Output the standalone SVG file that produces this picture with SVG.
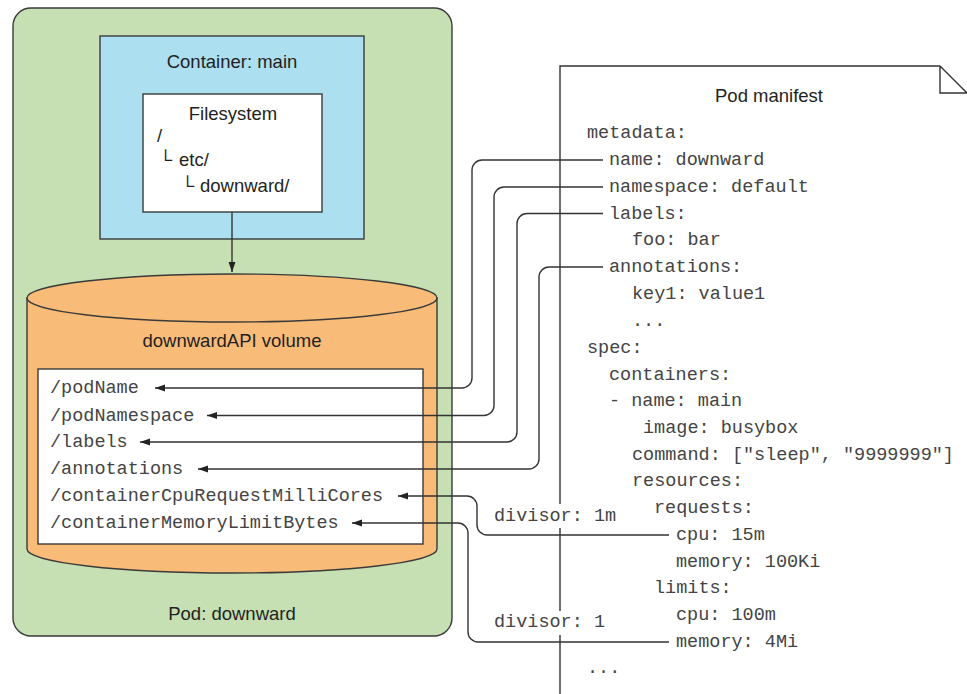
<svg xmlns="http://www.w3.org/2000/svg" width="967" height="694" viewBox="0 0 967 694">
<style>
.box{stroke:#3a3a3a;stroke-width:1.4}
.sans{font-family:"Liberation Sans",Arial,"DejaVu Sans",sans-serif;font-size:18.5px;fill:#231f20}
.mono{font-family:"Liberation Mono","Courier New",monospace;font-size:18.5px;fill:#444}
.conn{fill:none;stroke:#333;stroke-width:1.4}
</style>
<defs>
<marker id="ah" markerUnits="userSpaceOnUse" markerWidth="11" markerHeight="8" refX="10" refY="3.5" orient="auto">
<path d="M0,0 L10,3.5 L0,7 Z" fill="#222"/>
</marker>
</defs>
<rect width="967" height="694" fill="#fff"/>

<g id="pod">
<rect class="box" x="13" y="8" width="439" height="628" rx="18" fill="#c6e0b4"/>
<text class="sans" x="232" y="620" text-anchor="middle">Pod: downward</text>
</g>

<g id="container">
<rect class="box" x="100" y="36" width="264" height="203" fill="#acdff0"/>
<text class="sans" x="232" y="68" text-anchor="middle">Container: main</text>
</g>

<g id="filesystem">
<rect class="box" x="143" y="94" width="179" height="118" fill="#fff"/>
<text class="sans" x="233" y="120" text-anchor="middle">Filesystem</text>
<text class="sans" x="157" y="142">/</text>
<text class="sans" x="159" y="166">└</text>
<text class="sans" x="179" y="166">etc/</text>
<text class="sans" x="181" y="192">└</text>
<text class="sans" x="200" y="192">downward/</text>
</g>

<g id="volume">
<path class="box" d="M27,298 V549 A205,24 0 0 0 437,549 V298 Z" fill="#f9bb78"/>
<ellipse class="box" cx="232" cy="298" rx="205" ry="24" fill="#f9bb78"/>
<text class="sans" x="232" y="347" text-anchor="middle">downwardAPI volume</text>
<rect class="box" x="38" y="369" width="385" height="175" fill="#fff"/>
<text class="mono" x="50" y="393">/podName</text>
<text class="mono" x="50" y="420.5">/podNamespace</text>
<text class="mono" x="50" y="447">/labels</text>
<text class="mono" x="50" y="474">/annotations</text>
<text class="mono" x="50" y="501">/containerCpuRequestMilliCores</text>
<text class="mono" x="50" y="528">/containerMemoryLimitBytes</text>
</g>

<g id="manifest">
<path class="conn" d="M560,694 V66 H940 M940,66 V93 H967 M940,66 L967,93"/>
<text class="sans" x="769" y="102" text-anchor="middle">Pod manifest</text>
<text class="mono" x="587" y="138">metadata:</text>
<text class="mono" x="609" y="165">name: downward</text>
<text class="mono" x="609" y="192">namespace: default</text>
<text class="mono" x="609" y="218.5">labels:</text>
<text class="mono" x="632" y="245">foo: bar</text>
<text class="mono" x="609" y="272">annotations:</text>
<text class="mono" x="632" y="299">key1: value1</text>
<text class="mono" x="632" y="326">...</text>
<text class="mono" x="587" y="353">spec:</text>
<text class="mono" x="609" y="380">containers:</text>
<text class="mono" x="609" y="406">- name: main</text>
<text class="mono" x="643" y="433">image: busybox</text>
<text class="mono" x="632" y="460">command: ["sleep", "9999999"]</text>
<text class="mono" x="632" y="486">resources:</text>
<text class="mono" x="654" y="513">requests:</text>
<text class="mono" x="676" y="540">cpu: 15m</text>
<text class="mono" x="676" y="567">memory: 100Ki</text>
<text class="mono" x="654" y="593">limits:</text>
<text class="mono" x="676" y="620">cpu: 100m</text>
<text class="mono" x="676" y="647">memory: 4Mi</text>
<text class="mono" x="587" y="673">...</text>
</g>

<g id="connectors">
<line class="conn" x1="232" y1="212" x2="232" y2="272" marker-end="url(#ah)"/>
<path class="conn" d="M603,160 H482 A10,10 0 0 0 472,170 V378 A10,10 0 0 1 462,388 H155" marker-end="url(#ah)"/>
<path class="conn" d="M603,187 H504 A10,10 0 0 0 494,197 V405.5 A10,10 0 0 1 484,415.5 H207" marker-end="url(#ah)"/>
<path class="conn" d="M603,213.5 H527 A10,10 0 0 0 517,223.5 V432 A10,10 0 0 1 507,442 H140" marker-end="url(#ah)"/>
<path class="conn" d="M603,267 H549 A10,10 0 0 0 539,277 V459 A10,10 0 0 1 529,469 H198" marker-end="url(#ah)"/>
<path class="conn" d="M669,535 H487 A10,10 0 0 1 477,525 V506 A10,10 0 0 0 467,496 H398" marker-end="url(#ah)"/>
<path class="conn" d="M669,642 H478 A10,10 0 0 1 468,632 V533 A10,10 0 0 0 458,523 H352" marker-end="url(#ah)"/>
</g>

<g id="divisor-1m">
<rect x="490" y="504" width="132" height="24" fill="#fff"/>
<text class="mono" x="494" y="521">divisor: 1m</text>
</g>
<g id="divisor-1">
<rect x="490" y="611" width="120" height="24" fill="#fff"/>
<text class="mono" x="494" y="627">divisor: 1</text>
</g>
</svg>
